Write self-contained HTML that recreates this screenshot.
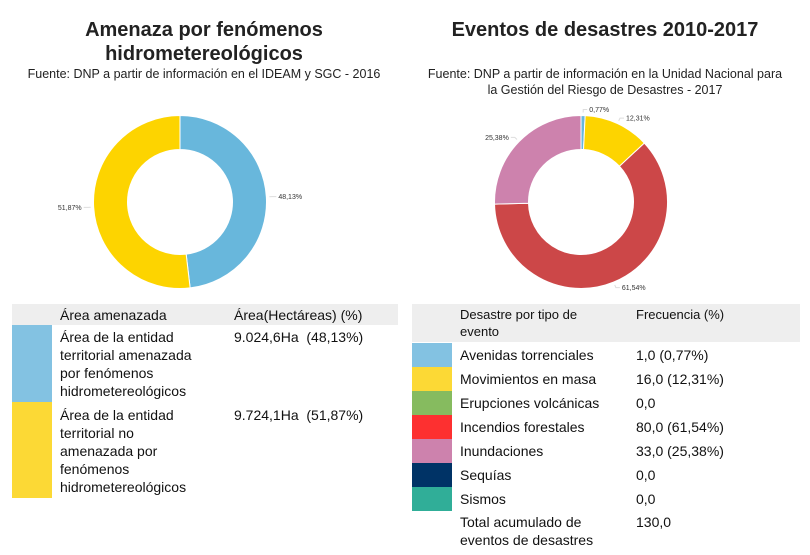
<!DOCTYPE html>
<html><head><meta charset="utf-8"><style>
body{margin:0;width:810px;height:555px;overflow:hidden;background:#fff;font-family:"Liberation Sans",sans-serif;color:#111;position:relative}
.t{position:absolute;text-align:center;font-size:20px;font-weight:bold;line-height:24px;color:#222}
.s{position:absolute;text-align:center;font-size:12.5px;line-height:16px;color:#222}
.c{position:absolute;font-size:14px;line-height:18px;color:#111;white-space:nowrap}
.bg{position:absolute;background:#eeeeee}
.sw{position:absolute}
svg{position:absolute;left:0;top:0}
</style></head><body>
<div class="t" style="left:0;width:408px;top:18px">Amenaza por fenómenos<br>hidrometereológicos</div>
<div class="s" style="left:0;width:408px;top:66px">Fuente: DNP a partir de información en el IDEAM y SGC - 2016</div>
<div class="t" style="left:405px;width:400px;top:18px">Eventos de desastres 2010-2017</div>
<div class="s" style="left:405px;width:400px;top:66px">Fuente: DNP a partir de información en la Unidad Nacional para<br>la Gestión del Riesgo de Desastres - 2017</div>
<svg id="chart" width="810" height="300"></svg>

<div class="bg" style="left:12px;top:304px;width:386px;height:21px"></div>
<div class="c" style="left:60px;top:306px">Área amenazada</div>
<div class="c" style="left:234px;top:306px">Área(Hectáreas) (%)</div>
<div class="sw" style="left:12px;top:325px;width:40px;height:77px;background:#83c2e2"></div>
<div class="c" style="left:60px;top:328px">Área de la entidad<br>territorial amenazada<br>por fenómenos<br>hidrometereológicos</div>
<div class="c" style="left:234px;top:328px">9.024,6Ha&nbsp; (48,13%)</div>
<div class="sw" style="left:12px;top:402px;width:40px;height:96px;background:#fcd935"></div>
<div class="c" style="left:60px;top:406px">Área de la entidad<br>territorial no<br>amenazada por<br>fenómenos<br>hidrometereológicos</div>
<div class="c" style="left:234px;top:406px">9.724,1Ha&nbsp; (51,87%)</div>

<div class="bg" style="left:412px;top:304px;width:388px;height:38px"></div>
<div class="c" style="left:460px;top:306px;font-size:13px;line-height:17px">Desastre por tipo de<br>evento</div>
<div class="c" style="left:636px;top:306px;font-size:13px">Frecuencia (%)</div>
<div id="rt"></div>
<div class="c" style="left:460px;top:513px">Total acumulado de<br>eventos de desastres</div>
<div class="c" style="left:636px;top:513px">130,0</div>

<script>
const leftLabels=["48,13%","51,87%"];
const leftValues=[48.13,51.87];
const leftColors=["#68b7dc","#fdd400"];
const rightLabels=["0,77%","12,31%","61,54%","25,38%"];
const rightValues=[0.77,12.31,61.54,25.38];
const rightColors=["#68b7dc","#fdd400","#cc4748","#cd82ad"];
const cats=["Avenidas torrenciales","Movimientos en masa","Erupciones volcánicas","Incendios forestales","Inundaciones","Sequías","Sismos"];
const freq=["1,0 (0,77%)","16,0 (12,31%)","0,0","80,0 (61,54%)","33,0 (25,38%)","0,0","0,0"];
const catColors=["#83c2e2","#fcd935","#86bb5f","#fd3030","#cd82ad","#003366","#30ae98"];
const NS="http://www.w3.org/2000/svg";
const svg=document.getElementById('chart');
function pt(cx,cy,r,a){return [cx+r*Math.sin(a),cy-r*Math.cos(a)];}
function donut(cx,cy,R,r,vals,cols,labs,name){
  const tot=vals.reduce((a,b)=>a+b,0);let a0=0;
  vals.forEach((v,i)=>{
    const a1=a0+v/tot*2*Math.PI;const lg=(a1-a0)>Math.PI?1:0;
    const p1=pt(cx,cy,R,a0),p2=pt(cx,cy,R,a1),p3=pt(cx,cy,r,a1),p4=pt(cx,cy,r,a0);
    const p=document.createElementNS(NS,'path');
    p.setAttribute('d',`M${p1}A${R},${R} 0 ${lg} 1 ${p2}L${p3}A${r},${r} 0 ${lg} 0 ${p4}Z`);
    p.setAttribute('fill',cols[i]);p.setAttribute('stroke','#fff');p.setAttribute('stroke-width','1');
    
    
    svg.appendChild(p);
    const m=(a0+a1)/2;const q=pt(cx,cy,R+3,m),q2=pt(cx,cy,R+6,m);
    const right=Math.sin(m)>=0;
    const l=document.createElementNS(NS,'path');
    const ex=q2[0]+(right?4:-4);
    l.setAttribute('d',`M${q}L${q2}L${ex},${q2[1]}`);l.setAttribute('stroke','#ddd');l.setAttribute('fill','none');
    
    
    svg.appendChild(l);
    const t=document.createElementNS(NS,'text');
    t.setAttribute('x',ex+(right?2:-2));t.setAttribute('y',q2[1]+2.5);
    t.setAttribute('font-size','7');t.setAttribute('fill','#333');
    t.setAttribute('text-anchor',right?'start':'end');t.textContent=labs[i];
    
    
    svg.appendChild(t);
    a0=a1;
  });
}
donut(180,202,86.5,52.5,leftValues,leftColors,leftLabels,'left-donut');
donut(581,202,86.5,52.5,rightValues,rightColors,rightLabels,'right-donut');
const rt=document.getElementById('rt');
cats.forEach((c,i)=>{
  const y=343+i*24;
  const s=document.createElement('div');s.className='sw';
  s.style.cssText=`left:412px;top:${y}px;width:40px;height:24px;background:${catColors[i]}`;
  
  
  rt.appendChild(s);
  const a=document.createElement('div');a.className='c';a.style.cssText=`left:460px;top:${y+3}px`;a.textContent=c;
  
  
  rt.appendChild(a);
  const b=document.createElement('div');b.className='c';b.style.cssText=`left:636px;top:${y+3}px`;b.textContent=freq[i];
  
  
  rt.appendChild(b);
});
</script>
</body></html>
